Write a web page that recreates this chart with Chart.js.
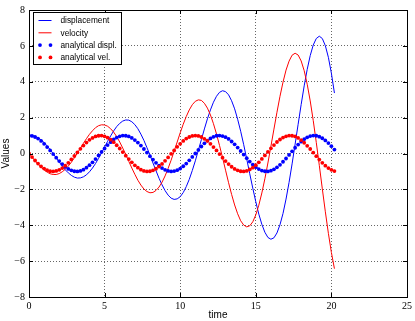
<!DOCTYPE html>
<html><head><meta charset="utf-8">
<script src="https://cdn.jsdelivr.net/npm/chart.js@4/dist/chart.umd.min.js"></script>
<style>html,body{margin:0;padding:0;background:#fff}canvas{display:block}</style>
</head><body>
<canvas id="c" width="415" height="321"></canvas>
<script>
const time = [0,0.2,0.4,0.6,0.8,1.0,1.2,1.4,1.6,1.8,
 2.0,2.2,2.4,2.6,2.8,3.0,3.2,3.4,3.6,3.8,
 4.0,4.2,4.4,4.6,4.8,5.0,5.2,5.4,5.6,5.8,
 6.0,6.2,6.4,6.6,6.8,7.0,7.2,7.4,7.6,7.8,
 8.0,8.2,8.4,8.6,8.8,9.0,9.2,9.4,9.6,9.8,
 10.0,10.2,10.4,10.6,10.8,11.0,11.2,11.4,11.6,11.8,
 12.0,12.2,12.4,12.6,12.8,13.0,13.2,13.4,13.6,13.8,
 14.0,14.2,14.4,14.6,14.8,15.0,15.2,15.4,15.6,15.8,
 16.0,16.2,16.4,16.6,16.8,17.0,17.2,17.4,17.6,17.8,
 18.0,18.2,18.4,18.6,18.8,19.0,19.2,19.4,19.6,19.8,
 20.0,20.2];

const displacement = [1.00,1.00,0.96,0.88,0.76,0.61,0.42,0.22,-0.01,-0.24,
 -0.48,-0.70,-0.91,-1.08,-1.22,-1.32,-1.37,-1.36,-1.30,-1.19,
 -1.02,-0.81,-0.56,-0.27,0.04,0.36,0.68,0.98,1.26,1.50,
 1.68,1.81,1.87,1.86,1.77,1.61,1.38,1.08,0.73,0.33,
 -0.09,-0.53,-0.96,-1.38,-1.75,-2.07,-2.32,-2.49,-2.56,-2.53,
 -2.41,-2.18,-1.85,-1.44,-0.95,-0.41,0.18,0.77,1.37,1.93,
 2.43,2.86,3.19,3.41,3.50,3.45,3.27,2.94,2.49,1.91,
 1.24,0.49,-0.31,-1.13,-1.93,-2.69,-3.38,-3.95,-4.39,-4.68,
 -4.78,-4.70,-4.43,-3.97,-3.34,-2.54,-1.61,-0.58,0.52,1.63,
 2.73,3.77,4.69,5.46,6.05,6.41,6.54,6.41,6.01,5.36,
 4.47,3.37];

const velocity = [0.00,-0.20,-0.40,-0.59,-0.77,-0.92,-1.04,-1.13,-1.17,-1.17,
 -1.12,-1.02,-0.88,-0.70,-0.49,-0.24,0.02,0.30,0.57,0.83,
 1.07,1.27,1.44,1.55,1.60,1.59,1.52,1.38,1.19,0.94,
 0.64,0.30,-0.06,-0.44,-0.81,-1.16,-1.49,-1.76,-1.98,-2.12,
 -2.19,-2.17,-2.06,-1.87,-1.60,-1.25,-0.83,-0.37,0.13,0.64,
 1.15,1.63,2.06,2.43,2.72,2.91,2.99,2.96,2.80,2.53,
 2.15,1.66,1.09,0.45,-0.23,-0.93,-1.63,-2.28,-2.87,-3.36,
 -3.75,-3.99,-4.09,-4.03,-3.81,-3.42,-2.88,-2.20,-1.41,-0.53,
 0.40,1.36,2.30,3.19,3.98,4.65,5.15,5.48,5.59,5.49,
 5.16,4.62,3.86,2.93,1.83,0.62,-0.66,-1.97,-3.25,-4.45,
 -5.52,-6.42];

const analyticalDispl = [1.00,0.98,0.92,0.83,0.70,0.54,0.36,0.17,-0.03,-0.23,
 -0.42,-0.59,-0.74,-0.86,-0.94,-0.99,-1.00,-0.97,-0.90,-0.79,
 -0.65,-0.49,-0.31,-0.11,0.09,0.28,0.47,0.63,0.78,0.89,
 0.96,1.00,0.99,0.95,0.87,0.75,0.61,0.44,0.25,0.05,
 -0.15,-0.34,-0.52,-0.68,-0.81,-0.91,-0.97,-1.00,-0.98,-0.93,
 -0.84,-0.71,-0.56,-0.38,-0.19,0.00,0.20,0.39,0.57,0.72,
 0.84,0.93,0.99,1.00,0.97,0.91,0.81,0.67,0.51,0.33,
 0.14,-0.06,-0.26,-0.45,-0.62,-0.76,-0.87,-0.95,-0.99,-1.00,
 -0.96,-0.88,-0.77,-0.63,-0.46,-0.28,-0.08,0.12,0.32,0.50,
 0.66,0.80,0.90,0.97,1.00,0.99,0.94,0.85,0.73,0.58,
 0.41,0.22];

const analyticalVel = [0.00,-0.20,-0.39,-0.56,-0.72,-0.84,-0.93,-0.99,-1.00,-0.97,
 -0.91,-0.81,-0.68,-0.52,-0.33,-0.14,0.06,0.26,0.44,0.61,
 0.76,0.87,0.95,0.99,1.00,0.96,0.88,0.77,0.63,0.46,
 0.28,0.08,-0.12,-0.31,-0.49,-0.66,-0.79,-0.90,-0.97,-1.00,
 -0.99,-0.94,-0.85,-0.73,-0.58,-0.41,-0.22,-0.02,0.17,0.37,
 0.54,0.70,0.83,0.92,0.98,1.00,0.98,0.92,0.82,0.70,
 0.54,0.36,0.17,-0.03,-0.23,-0.42,-0.59,-0.74,-0.86,-0.94,
 -0.99,-1.00,-0.97,-0.89,-0.79,-0.65,-0.49,-0.30,-0.11,0.09,
 0.29,0.47,0.64,0.78,0.89,0.96,1.00,0.99,0.95,0.87,
 0.75,0.60,0.43,0.25,0.05,-0.15,-0.34,-0.52,-0.68,-0.81,
 -0.91,-0.98];

const seriesLabels = ['displacement','velocity','analytical displ.','analytical vel.'];
const xTicks = [0,5,10,15,20,25];
const yTicks = [-8,-6,-4,-2,0,2,4,6,8];
const xTitle = 'time';
const yTitle = 'Values';

const BLUE = '#0000ff', RED = '#ff0000';
const pts = (xs, ys) => xs.map((x, i) => ({x, y: ys[i]}));
const fmt = v => v < 0 ? '\u2212' + Math.abs(v) : String(v);

const framePlugin = {
  id: 'frame',
  afterDraw(chart) {
    const {ctx, chartArea: a, scales} = chart;
    ctx.save();
    ctx.strokeStyle = '#000';
    ctx.lineWidth = 1;
    ctx.beginPath();
    xTicks.forEach(v => {
      const px = Math.round(scales.x.getPixelForValue(v)) + 0.5;
      ctx.moveTo(px, a.bottom); ctx.lineTo(px, a.bottom - 4);
      ctx.moveTo(px, a.top); ctx.lineTo(px, a.top + 4);
    });
    yTicks.forEach(v => {
      const py = Math.round(scales.y.getPixelForValue(v)) + 0.5;
      ctx.moveTo(a.left, py); ctx.lineTo(a.left + 4, py);
      ctx.moveTo(a.right, py); ctx.lineTo(a.right - 4, py);
    });
    ctx.stroke();
    ctx.strokeRect(Math.round(a.left) + 0.5, Math.round(a.top) + 0.5,
                   Math.round(a.right - a.left), Math.round(a.bottom - a.top));

    // legend box
    const bx = a.left + 4.5, by = a.top + 2.5, bw = 88, bh = 52;
    ctx.fillStyle = '#fff';
    ctx.fillRect(bx, by, bw, bh);
    ctx.strokeRect(bx, by, bw, bh);
    ctx.font = '8.3px "Liberation Sans", Arial, sans-serif';
    ctx.textBaseline = 'middle';
    ctx.textAlign = 'left';
    chart.data.datasets.forEach((ds, i) => {
      const y = by + 8 + i * 12.3;
      if (ds.showLine) {
        ctx.strokeStyle = ds.borderColor;
        ctx.beginPath();
        ctx.moveTo(bx + 5, y); ctx.lineTo(bx + 18, y);
        ctx.stroke();
      } else {
        ctx.fillStyle = ds.backgroundColor;
        [bx + 6.5, bx + 17].forEach(cx => {
          ctx.beginPath(); ctx.arc(cx, y, 1.9, 0, Math.PI * 2); ctx.fill();
        });
      }
      ctx.fillStyle = '#000';
      ctx.fillText(ds.label, bx + 27, y + 0.5);
    });
    ctx.restore();
  }
};

new Chart(document.getElementById('c'), {
  type: 'scatter',
  data: {
    datasets: [
      {label: seriesLabels[0], data: pts(time, displacement), showLine: true, borderColor: BLUE, backgroundColor: BLUE, borderWidth: 1, pointRadius: 0, tension: 0, order: 4},
      {label: seriesLabels[1], data: pts(time, velocity), showLine: true, borderColor: RED, backgroundColor: RED, borderWidth: 1, pointRadius: 0, tension: 0, order: 3},
      {label: seriesLabels[2], data: pts(time, analyticalDispl), showLine: false, borderColor: BLUE, backgroundColor: BLUE, pointRadius: 1.9, pointBorderWidth: 0, order: 2},
      {label: seriesLabels[3], data: pts(time, analyticalVel), showLine: false, borderColor: RED, backgroundColor: RED, pointRadius: 1.9, pointBorderWidth: 0, order: 1}
    ]
  },
  options: {
    responsive: false,
    devicePixelRatio: 1,
    animation: false,
    events: [],
    layout: {padding: {top: 5, right: 7, left: 0, bottom: 0}},
    plugins: {legend: {display: false}, tooltip: {enabled: false}},
    scales: {
      x: {
        type: 'linear', min: 0, max: 25,
        afterBuildTicks: s => { s.ticks = xTicks.map(v => ({value: v})); },
        afterFit: s => { s.height = 24; },
        ticks: {color: '#000', padding: 3, font: {family: '"Liberation Serif", "DejaVu Serif", serif', size: 10}, callback: fmt, maxRotation: 0},
        grid: {color: 'rgba(0,0,0,0.6)', lineWidth: 1, drawTicks: false},
        border: {display: false, dash: [1, 2]},
        title: {display: true, text: xTitle, color: '#000', padding: 0, font: {family: '"Liberation Sans", Arial, sans-serif', size: 10}}
      },
      y: {
        type: 'linear', min: -8, max: 8,
        afterBuildTicks: s => { s.ticks = yTicks.map(v => ({value: v})); },
        afterFit: s => { s.width = 29; },
        ticks: {color: '#000', padding: 4, font: {family: '"Liberation Serif", "DejaVu Serif", serif', size: 10}, callback: fmt},
        grid: {color: 'rgba(0,0,0,0.6)', lineWidth: 1, drawTicks: false},
        border: {display: false, dash: [1, 2]},
        title: {display: true, text: yTitle, color: '#000', padding: 0, font: {family: '"Liberation Sans", Arial, sans-serif', size: 10}}
      }
    }
  },
  plugins: [framePlugin]
});
</script>
</body></html>
